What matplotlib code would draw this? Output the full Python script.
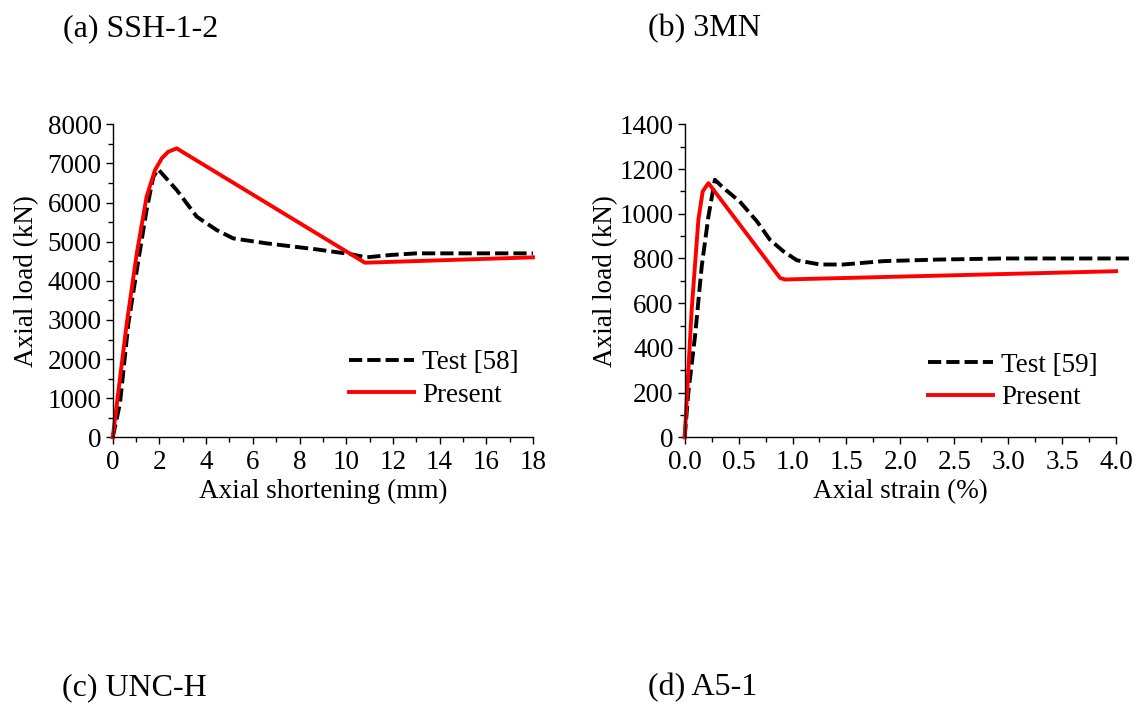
import matplotlib
matplotlib.use("Agg")
import matplotlib.pyplot as plt
from matplotlib.ticker import MultipleLocator

plt.rcParams['font.family'] = ['Liberation Serif', 'DejaVu Serif']

# (a) SSH-1-2: axial shortening (mm) vs axial load (kN)
test_a_x = [0, 0.31, 0.67, 1.1, 1.45, 1.74, 1.95, 2.74, 3.6, 4.45, 5.16, 6.6, 8.73, 10.16, 10.87, 11.87, 13.0, 18.0]
test_a_y = [0, 869, 2913, 4531, 5809, 6661, 6848, 6320, 5639, 5298, 5085, 4957, 4804, 4685, 4600, 4659, 4702, 4702]
pres_a_x = [0, 0.6, 1.03, 1.45, 1.81, 2.1, 2.38, 2.74, 10.8, 18.0]
pres_a_y = [0, 2913, 4702, 6150, 6831, 7130, 7300, 7385, 4463, 4600]

# (b) 3MN: axial strain (%) vs axial load (kN)
test_b_x = [0, 0.034, 0.096, 0.158, 0.22, 0.28, 0.36, 0.51, 0.67, 0.79, 0.915, 1.04, 1.255, 1.47, 1.84, 2.34, 2.955, 4.13]
test_b_y = [0, 200, 453, 765, 988, 1152, 1115, 1055, 966, 884, 832, 792, 773, 773, 788, 795, 800, 800]
pres_b_x = [0, 0.065, 0.127, 0.167, 0.22, 0.884, 0.93, 4.0]
pres_b_y = [0, 572, 973, 1100, 1137, 713, 706, 743]

panel_titles = ['(a) SSH-1-2', '(b) 3MN', '(c) UNC-H', '(d) A5-1']

fs = 19.5
fs_title = 23
fig = plt.figure(figsize=(11.4, 7.04), dpi=100)
ax1 = fig.add_axes([0.0989, 0.3788, 0.3686, 0.4446])
ax2 = fig.add_axes([0.6006, 0.3788, 0.3784, 0.4446])


def style_axes(ax, xmax, xmaj, xmin, ymax, ymaj, ymin):
    ax.set_xlim(0, xmax)
    ax.set_ylim(0, ymax)
    ax.xaxis.set_major_locator(MultipleLocator(xmaj))
    ax.xaxis.set_minor_locator(MultipleLocator(xmin))
    ax.yaxis.set_major_locator(MultipleLocator(ymaj))
    ax.yaxis.set_minor_locator(MultipleLocator(ymin))
    for s in ['top', 'right']:
        ax.spines[s].set_visible(False)
    for s in ['left', 'bottom']:
        ax.spines[s].set_linewidth(1.0)
    ax.tick_params(which='major', direction='out', length=5, width=1, labelsize=fs)
    ax.tick_params(which='minor', direction='out', length=3.5, width=1)
    ax.tick_params(axis='x', which='major', pad=4)
    ax.tick_params(axis='y', which='major', pad=3)


dash = (0, (3.4, 1.3))
lw = 2.8
leg_kw = dict(loc='center left', frameon=False, fontsize=fs, handlelength=2.4,
              handletextpad=0.3, labelspacing=0.28, borderpad=0, borderaxespad=0)

ax1.plot(test_a_x, test_a_y, color='black', lw=lw, ls=dash, label='Test [58]', clip_on=False)
ax1.plot(pres_a_x, pres_a_y, color='#ff0000', lw=lw, label='Present', clip_on=False)
style_axes(ax1, 18, 2, 1, 8000, 1000, 500)
ax1.set_xlabel('Axial shortening (mm)', fontsize=fs, labelpad=3)
ax1.set_ylabel('Axial load (kN)', fontsize=fs, labelpad=6)
ax1.legend(bbox_to_anchor=(0.306, 0.4615), bbox_transform=fig.transFigure, **leg_kw)

ax2.plot(test_b_x, test_b_y, color='black', lw=lw, ls=dash, label='Test [59]', clip_on=False)
ax2.plot(pres_b_x, pres_b_y, color='#ff0000', lw=lw, label='Present', clip_on=False)
style_axes(ax2, 4.0, 0.5, 0.25, 1400, 200, 100)
ax2.xaxis.set_major_formatter(lambda v, p: f'{v:.1f}')
ax2.set_xlabel('Axial strain (%)', fontsize=fs, labelpad=3)
ax2.set_ylabel('Axial load (kN)', fontsize=fs, labelpad=1)
ax2.legend(bbox_to_anchor=(0.814, 0.458), bbox_transform=fig.transFigure, **leg_kw)

fig.text(0.055, 0.959, panel_titles[0], fontsize=fs_title, va='center', ha='left')
fig.text(0.568, 0.959, panel_titles[1], fontsize=fs_title, va='center', ha='left')
fig.text(0.054, 0.023, panel_titles[2], fontsize=fs_title, va='center', ha='left')
fig.text(0.568, 0.023, panel_titles[3], fontsize=fs_title, va='center', ha='left')

fig.savefig('out.png', dpi=100)
